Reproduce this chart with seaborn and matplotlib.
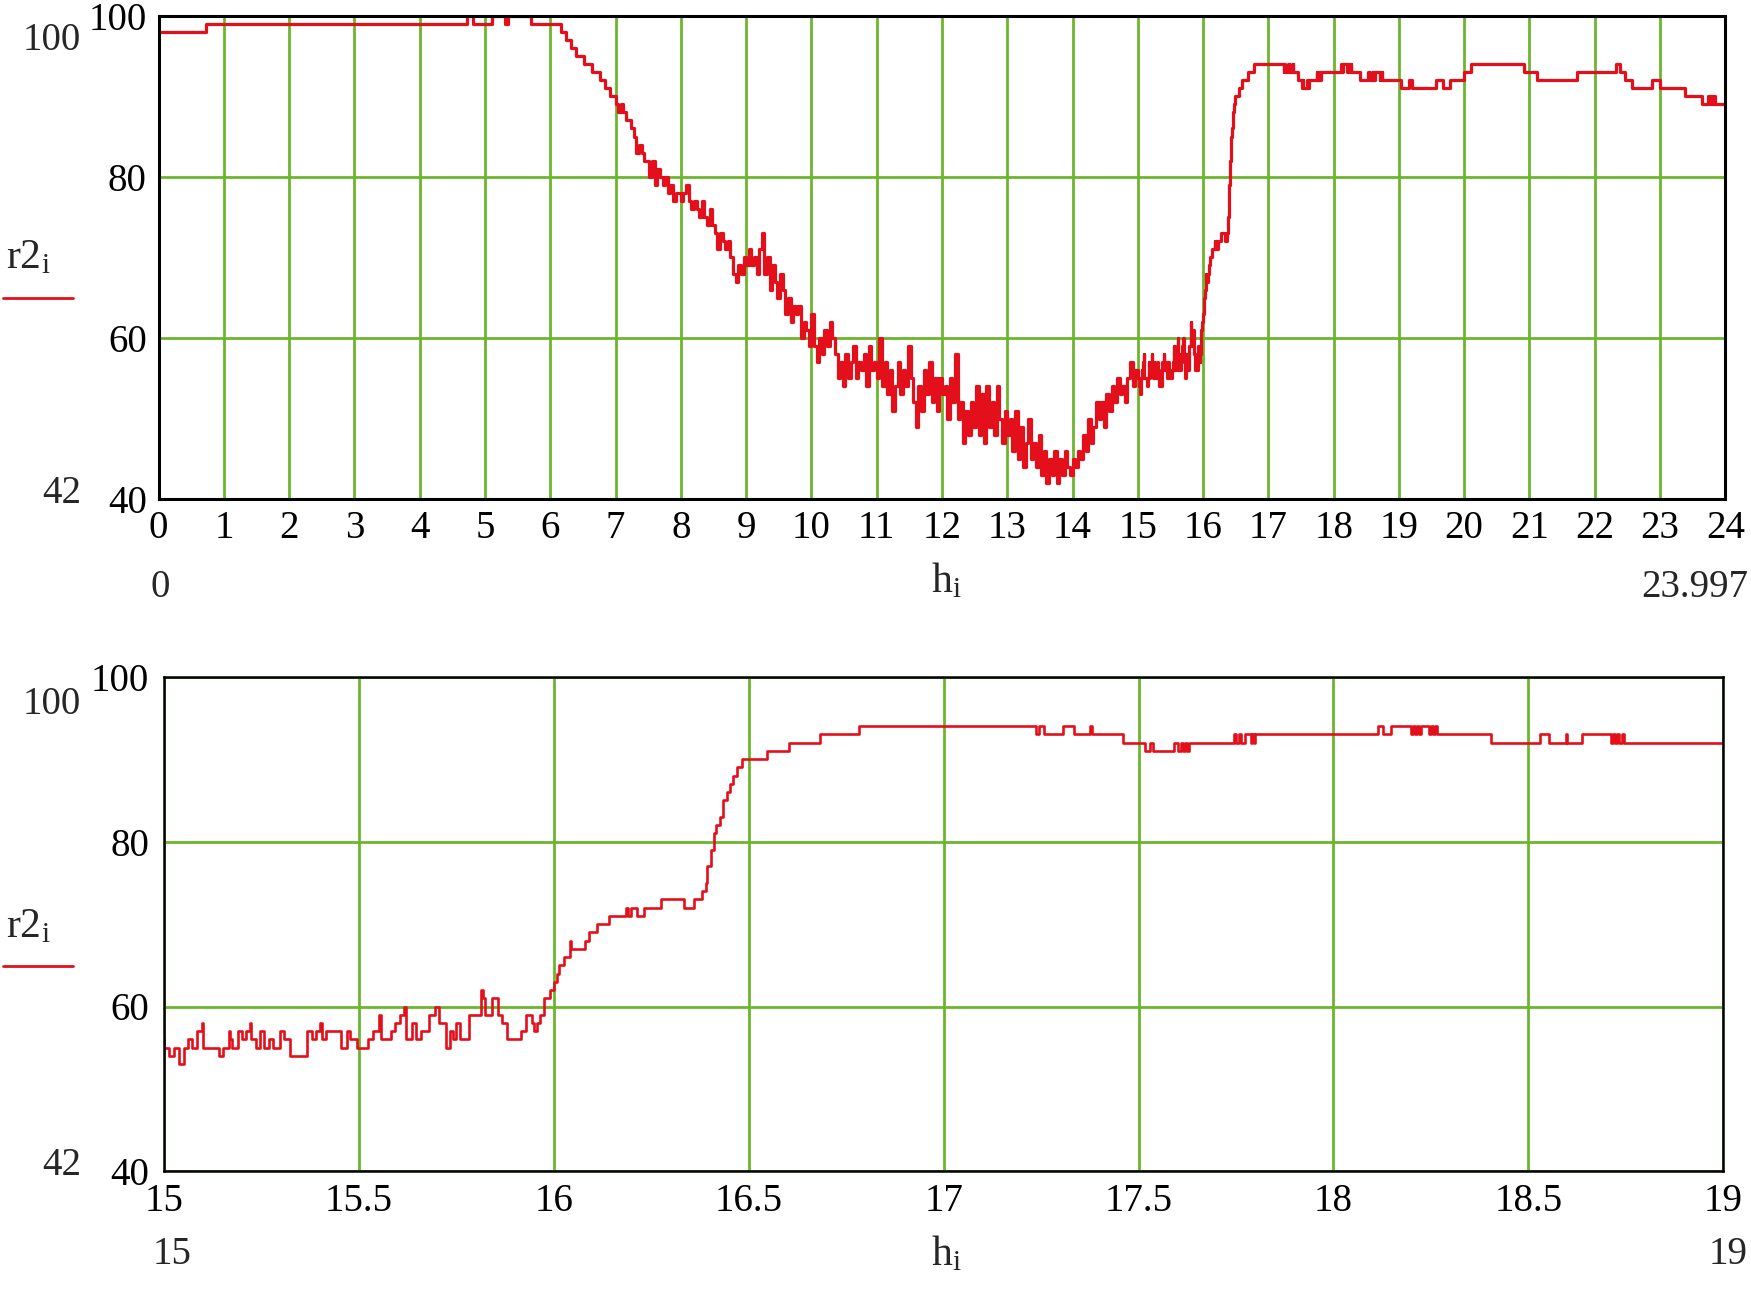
import numpy as np
import pandas as pd
import matplotlib
matplotlib.use("Agg")
import matplotlib.pyplot as plt
from matplotlib.lines import Line2D
import seaborn as sns

# r2 against hour of the day (step data)

# quiet night part, only a few level changes
hours_early = [0.00, 0.72, 4.73, 4.81, 5.10, 5.30, 5.35, 5.70, 6.17]
r2_early = [98, 99, 100, 99, 100, 99, 100, 99, 98]

# noisy descent from 6.20 h to 14.96 h, one reading every 0.04 h
noisy_start = 6.20
noisy_step = 0.04
r2_noisy = [
    98, 97, 97, 96, 96, 95, 95, 95, 94, 94,
    94, 93, 93, 93, 92, 92, 91, 91, 90, 90,
    89, 88, 89, 88, 87, 87, 86, 85, 83, 84,
    83, 82, 82, 80, 82, 79, 81, 80, 79, 80,
    78, 79, 77, 78, 78, 77, 78, 79, 77, 76,
    77, 76, 75, 77, 75, 74, 76, 74, 73, 71,
    73, 72, 71, 72, 70, 68, 67, 69, 68, 70,
    69, 71, 69, 70, 68, 71, 73, 68, 70, 66,
    69, 67, 65, 68, 66, 63, 65, 62, 64, 63,
    64, 60, 62, 61, 59, 63, 59, 57, 60, 58,
    61, 59, 62, 60, 58, 55, 57, 54, 58, 55,
    57, 59, 55, 57, 56, 58, 54, 59, 56, 57,
    55, 60, 54, 57, 53, 56, 51, 54, 57, 53,
    56, 54, 59, 55, 52, 49, 54, 51, 56, 53,
    57, 52, 55, 51, 55, 53, 54, 50, 55, 52,
    58, 50, 52, 47, 51, 48, 52, 49, 54, 48,
    53, 47, 54, 49, 52, 48, 54, 50, 47, 51,
    48, 50, 46, 51, 45, 49, 44, 47, 50, 45,
    47, 44, 48, 43, 46, 42, 45, 43, 46, 42,
    45, 43, 46, 44, 43, 45, 44, 46, 45, 48,
    46, 50, 47, 49, 52, 50, 52, 49, 53, 51,
    54, 52, 55, 53, 54, 52, 55, 57, 54, 56,
]

# 15 h .. 19 h
hours_rise = [
    15.000, 15.013, 15.026, 15.039, 15.052, 15.062, 15.072, 15.083, 15.096, 15.099,
    15.140, 15.152, 15.165, 15.170, 15.175, 15.189, 15.200, 15.210, 15.219, 15.224,
    15.235, 15.245, 15.255, 15.268, 15.280, 15.297, 15.307, 15.322, 15.366, 15.380,
    15.390, 15.400, 15.405, 15.415, 15.425, 15.454, 15.469, 15.476, 15.483, 15.495,
    15.523, 15.537, 15.552, 15.557, 15.581, 15.591, 15.606, 15.616, 15.621, 15.635,
    15.645, 15.660, 15.679, 15.694, 15.704, 15.724, 15.733, 15.740, 15.748, 15.758,
    15.782, 15.812, 15.817, 15.822, 15.841, 15.856, 15.866, 15.880, 15.915, 15.929,
    15.944, 15.950, 15.956, 15.964, 15.974, 15.991, 16.000, 16.007, 16.013, 16.026,
    16.032, 16.041, 16.044, 16.073, 16.081, 16.090, 16.111, 16.141, 16.184, 16.190,
    16.197, 16.214, 16.231, 16.265, 16.274, 16.333, 16.359, 16.380, 16.389, 16.393,
    16.402, 16.410, 16.417, 16.426, 16.434, 16.443, 16.451, 16.460, 16.470, 16.483,
    16.547, 16.603, 16.684, 16.782, 17.237, 17.245, 17.257, 17.306, 17.335, 17.375,
    17.380, 17.459, 17.517, 17.530, 17.536, 17.591, 17.602, 17.608, 17.614, 17.620,
    17.625, 17.629, 17.745, 17.751, 17.757, 17.763, 17.772, 17.788, 17.792, 17.796,
    17.800, 17.804, 18.115, 18.128, 18.149, 18.200, 18.205, 18.210, 18.215, 18.220,
    18.225, 18.229, 18.245, 18.250, 18.255, 18.260, 18.266, 18.404, 18.530, 18.553,
    18.597, 18.600, 18.638, 18.713, 18.718, 18.723, 18.728, 18.733, 18.740, 18.745,
]
r2_rise = [
    55, 54, 55, 53, 55, 56, 55, 57, 58, 55,
    54, 55, 57, 56, 55, 57, 56, 57, 58, 56,
    55, 57, 55, 56, 55, 57, 56, 54, 57, 56,
    57, 58, 56, 57, 57, 55, 57, 56, 56, 55,
    56, 57, 59, 56, 57, 58, 59, 60, 56, 58,
    56, 57, 59, 60, 58, 55, 57, 56, 58, 56,
    59, 62, 61, 59, 61, 59, 58, 56, 57, 59,
    58, 57, 58, 59, 61, 62, 63, 64, 65, 66,
    66, 68, 67, 67, 68, 69, 70, 71, 72, 71,
    72, 71, 72, 72, 73, 72, 73, 74, 75, 77,
    79, 81, 82, 83, 85, 86, 87, 88, 89, 90,
    91, 92, 93, 94, 93, 94, 93, 94, 93, 94,
    93, 92, 91, 92, 91, 92, 91, 92, 91, 92,
    91, 92, 93, 92, 93, 92, 93, 92, 93, 92,
    93, 93, 94, 93, 94, 93, 94, 93, 94, 93,
    94, 94, 93, 94, 93, 94, 93, 92, 93, 92,
    93, 92, 93, 92, 93, 92, 93, 92, 93, 92,
]

# evening
hours_late = [19.03, 19.15, 19.20, 19.57, 19.67, 19.78, 20.00, 20.10, 20.91, 21.12,
              21.73, 22.33, 22.38, 22.46, 22.57, 22.88, 23.00, 23.39, 23.64, 23.74,
              23.76, 23.78, 23.80, 23.82, 23.84, 23.997]
r2_late = [91, 92, 91, 92, 91, 92, 93, 94, 93, 92,
           93, 94, 93, 92, 91, 92, 91, 90, 89, 90,
           89, 90, 89, 90, 89, 89]

hours_noisy = np.round(noisy_start + noisy_step * np.arange(len(r2_noisy)), 2)
df = pd.DataFrame({
    "h": np.concatenate([hours_early, hours_noisy, hours_rise, hours_late]),
    "r2": np.concatenate([r2_early, r2_noisy, r2_rise, r2_late]).astype(float),
})

sns.set_theme(style="white")
plt.rcParams["font.family"] = ["Liberation Serif", "DejaVu Serif"]
plt.rcParams["mathtext.fontset"] = "custom"
plt.rcParams["mathtext.rm"] = "Liberation Serif"
plt.rcParams["mathtext.it"] = "Liberation Serif"

W, H = 1751, 1290
fig = plt.figure(figsize=(W / 100, H / 100), dpi=100)

GREEN = "#6cb62e"
RED = "#e3101b"
FS = 28


def fx(x):
    return x / W


def fy(y):
    return 1 - y / H


# one dict per panel, pixel positions of the original picture
panels = [
    dict(box=(158.6, 15.6, 1725.3, 499.2), xlim=(0, 24),
         xticks=list(range(25)), xlabels=[str(t) for t in range(25)],
         lo="0", lo_x=150, hi="23.997", lim_y=(50, 503), r2_base=268, line_y=298,
         lim_base=597, lab_base=592, lw=2.3, spine=2.2, ypad=8.5),
    dict(box=(164.2, 676.7, 1723.1, 1171.4), xlim=(15, 19),
         xticks=[15, 15.5, 16, 16.5, 17, 17.5, 18, 18.5, 19],
         xlabels=["15", "15.5", "16", "16.5", "17", "17.5", "18", "18.5", "19"],
         lo="15", lo_x=153, hi="19", lim_y=(714, 1175), r2_base=937, line_y=966,
         lim_base=1264, lab_base=1265, lw=1.9, spine=1.8, ypad=11),
]

for p in panels:
    x0, y0, x1, y1 = p["box"]
    ax = fig.add_axes([fx(x0), fy(y1), (x1 - x0) / W, (y1 - y0) / H])
    sns.lineplot(data=df, x="h", y="r2", ax=ax, estimator=None, sort=False,
                 drawstyle="steps-post", color=RED, linewidth=p["lw"], zorder=3)
    ax.set_xlim(*p["xlim"])
    ax.set_ylim(40, 100)
    ax.set_xticks(p["xticks"])
    ax.set_xticklabels(p["xlabels"])
    ax.set_yticks([40, 60, 80, 100])
    ax.set_yticklabels(["40", "60", "80", "100"])
    ax.grid(True, color=GREEN, linewidth=2.0)
    ax.set_axisbelow(True)
    ax.tick_params(length=0, labelsize=FS, colors="black")
    ax.tick_params(axis="y", pad=p["ypad"])
    ax.tick_params(axis="x", pad=8)
    ax.set_xlabel("")
    ax.set_ylabel("")
    for s in ax.spines.values():
        s.set_visible(True)
        s.set_color("black")
        s.set_linewidth(p["spine"])
        s.set_zorder(4)

    # Mathcad style limit labels and axis names
    fig.text(fx(81), fy(p["lim_y"][0]), "100", ha="right", va="baseline", fontsize=FS)
    fig.text(fx(81), fy(p["lim_y"][1]), "42", ha="right", va="baseline", fontsize=FS)
    fig.text(fx(6), fy(p["r2_base"]), r"r2$_\mathrm{i}$", ha="left",
             va="baseline", fontsize=FS + 2)
    fig.add_artist(Line2D([fx(3), fx(73)], [fy(p["line_y"])] * 2,
                          color=RED, linewidth=2.0))
    fig.text(fx(p["lo_x"]), fy(p["lim_base"]), p["lo"], ha="left",
             va="baseline", fontsize=FS)
    fig.text(fx(1748), fy(p["lim_base"]), p["hi"], ha="right",
             va="baseline", fontsize=FS)
    fig.text(fx(946), fy(p["lab_base"]), r"h$_\mathrm{i}$", ha="center",
             va="baseline", fontsize=FS + 2)

fig.savefig("out.png", dpi=100)
